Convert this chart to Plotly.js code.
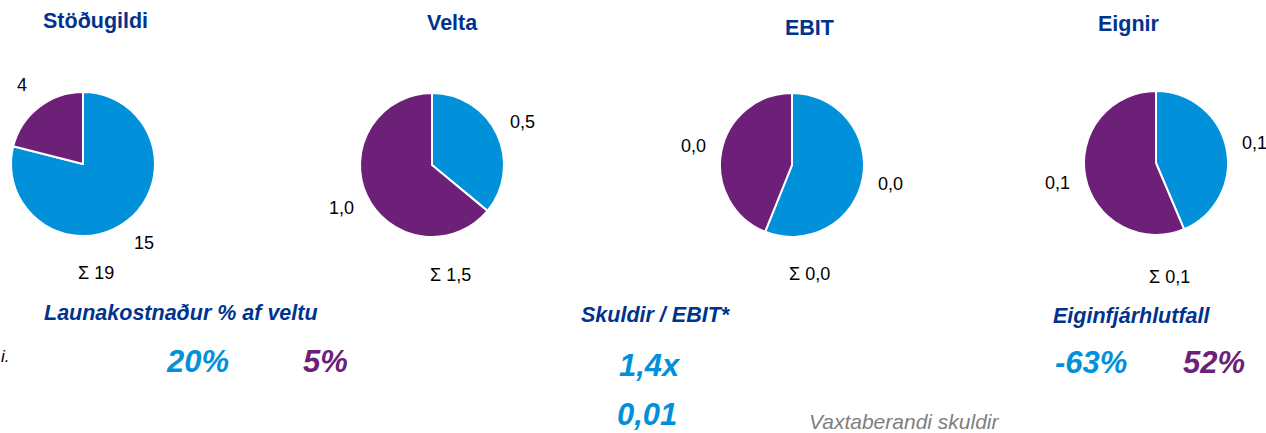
<!DOCTYPE html>
<html>
<head>
<meta charset="utf-8">
<script src="https://cdn.plot.ly/plotly-3.0.1.min.js"></script>
<style>html,body{margin:0;padding:0;background:#fff;}#chart{width:1266px;height:433px;}</style>
</head>
<body>
<div id="chart"></div>
<script>
// ---- data ----
const pieTitles = ['Stöðugildi', 'Velta', 'EBIT', 'Eignir'];
const blueValues = [15, 0.54, 0.023, 0.058];
const purpleValues = [4, 0.96, 0.018, 0.075];
const valueDecimals = [0, 1, 1, 1];

const metricTitles = ['Launakostnaður % af veltu', 'Skuldir / EBIT*', 'Eiginfjárhlutfall'];
const launakostnadurValues = ['20%', '5%'];
const skuldirEbitValue = '1,4x';
const vaxtaberandiValue = '0,01';
const vaxtaberandiLabel = 'Vaxtaberandi skuldir';
const eiginfjarValues = ['-63%', '52%'];
const cutNote = 'i.';

// ---- styling / layout ----
const W = 1266, H = 433;
const BLUE = '#0091DA', PURPLE = '#6D2077', NAVY = '#00338D', GREY = '#7F7F7F';
const FONT = 'Liberation Sans, Arial, sans-serif';
const pieCenters = [[83, 164], [432, 165], [792, 165], [1156, 163]];
const pieRadius = 72;
const titlePos = [[95, 21], [452, 23], [810, 28], [1129, 24]];
const sigmaPos = [[96, 273], [451, 275], [810, 274], [1169, 277]];

const px = x => x / W;
const py = y => 1 - y / H;
const fmt = (v, d) => v.toFixed(d).replace('.', ',');

const traces = [];
const annotations = [];

pieTitles.forEach((t, i) => {
  const [cx, cy] = pieCenters[i];
  const vals = [blueValues[i], purpleValues[i]];
  traces.push({
    type: 'pie',
    values: vals,
    labels: ['a', 'b'],
    sort: false,
    direction: 'clockwise',
    rotation: 0,
    textinfo: 'none',
    hoverinfo: 'none',
    marker: {colors: [BLUE, PURPLE], line: {color: '#ffffff', width: 2}},
    domain: {x: [px(cx - pieRadius), px(cx + pieRadius)], y: [py(cy + pieRadius), py(cy - pieRadius)]}
  });
  // value labels placed along each slice's mid-angle
  const total = vals[0] + vals[1];
  let start = 0;
  vals.forEach(v => {
    const mid = (start + v / 2) / total * 2 * Math.PI;
    start += v;
    const rr = pieRadius * 1.39;
    annotations.push({
      x: px(cx + rr * Math.sin(mid)), y: py(cy - rr * Math.cos(mid)),
      xref: 'paper', yref: 'paper', showarrow: false,
      xanchor: 'center', yanchor: 'middle',
      text: fmt(v, valueDecimals[i]),
      font: {family: FONT, size: 18, color: '#000'}
    });
  });
  annotations.push({
    x: px(titlePos[i][0]), y: py(titlePos[i][1]), xref: 'paper', yref: 'paper', showarrow: false,
    xanchor: 'center', yanchor: 'middle', text: '<b>' + t + '</b>',
    font: {family: FONT, size: 21.5, color: NAVY}
  });
  annotations.push({
    x: px(sigmaPos[i][0]), y: py(sigmaPos[i][1]), xref: 'paper', yref: 'paper', showarrow: false,
    xanchor: 'center', yanchor: 'middle', text: 'Σ ' + fmt(total, valueDecimals[i]),
    font: {family: FONT, size: 18, color: '#000'}
  });
});

function txt(x, y, text, size, color, opts) {
  annotations.push(Object.assign({
    x: px(x), y: py(y), xref: 'paper', yref: 'paper', showarrow: false,
    xanchor: 'center', yanchor: 'middle', text: text,
    font: {family: FONT, size: size, color: color}
  }, opts || {}));
}

const mtPos = [[181, 313], [656, 315], [1132, 316]];
metricTitles.forEach((m, i) => txt(mtPos[i][0], mtPos[i][1], '<b><i>' + m + '</i></b>', 21.5, NAVY));

txt(197, 361, '<b><i>' + launakostnadurValues[0] + '</i></b>', 31, BLUE);
txt(326, 361, '<b><i>' + launakostnadurValues[1] + '</i></b>', 31, PURPLE);
txt(650, 365, '<b><i>' + skuldirEbitValue + '</i></b>', 31, BLUE);
txt(647, 433, '<b><i>' + vaxtaberandiValue + '</i></b>', 31, BLUE, {yanchor: 'bottom', borderpad: 0});
txt(904, 421, '<i>' + vaxtaberandiLabel + '</i>', 21, GREY);
txt(1091, 362, '<b><i>' + eiginfjarValues[0] + '</i></b>', 31, BLUE);
txt(1214, 362, '<b><i>' + eiginfjarValues[1] + '</i></b>', 31, PURPLE);
txt(0, 356, '<i>' + cutNote + '</i>', 17, '#000', {xanchor: 'left', borderpad: 0});

const layout = {
  width: W, height: H,
  margin: {l: 0, r: 0, t: 0, b: 0},
  paper_bgcolor: '#ffffff',
  showlegend: false,
  annotations: annotations
};

Plotly.newPlot('chart', traces, layout, {displayModeBar: false, staticPlot: true});
</script>
</body>
</html>
